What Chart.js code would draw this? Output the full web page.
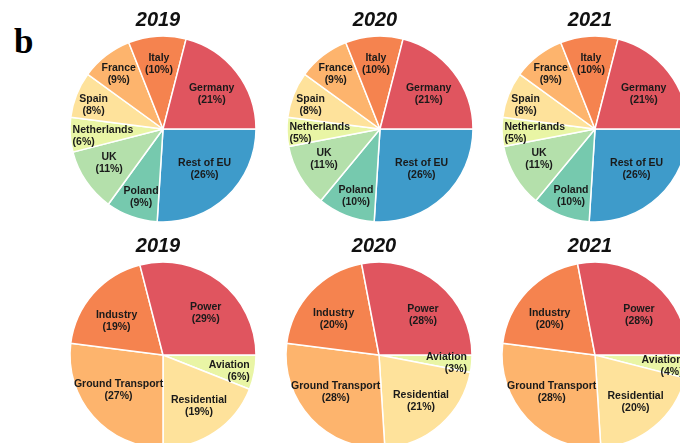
<!DOCTYPE html>
<html>
<head>
<meta charset="utf-8">
<script src="https://cdn.jsdelivr.net/npm/chart.js@4.4.1/dist/chart.umd.min.js"></script>
<style>
  html, body { margin: 0; padding: 0; background: #fff; }
  body { width: 680px; height: 443px; overflow: hidden; position: relative; }
  canvas { position: absolute; }
  #tag { position: absolute; left: 14px; top: 24px; font: bold 35px "Liberation Serif", serif; line-height: 35px; color: #000; }
</style>
</head>
<body>
<div id="tag">b</div>
<canvas id="c1" width="216" height="226" style="left:55px;top:0px"></canvas>
<canvas id="c2" width="216" height="226" style="left:272px;top:0px"></canvas>
<canvas id="c3" width="216" height="226" style="left:487px;top:0px"></canvas>
<canvas id="c4" width="216" height="226" style="left:55px;top:226px"></canvas>
<canvas id="c5" width="216" height="226" style="left:271px;top:226px"></canvas>
<canvas id="c6" width="216" height="226" style="left:487px;top:226px"></canvas>
<script>
// country shares (%), order as drawn counter-clockwise from 3 o'clock
var countries = ["Germany", "Italy", "France", "Spain", "Netherlands", "UK", "Poland", "Rest of EU"];
var countries2019 = [21, 10, 9, 8, 6, 11, 9, 26];
var countries2020 = [21, 10, 9, 8, 5, 11, 10, 26];
var countries2021 = [21, 10, 9, 8, 5, 11, 10, 26];
var countryColors = ["#e0555f", "#f5834f", "#fdb46d", "#fee29b", "#e9f5a5", "#b4e0ab", "#76c9ae", "#3e9bca"];

// sector shares (%)
var sectors = ["Power", "Industry", "Ground Transport", "Residential", "Aviation"];
var sectors2019 = [29, 19, 27, 19, 6];
var sectors2020 = [28, 20, 28, 21, 3];
var sectors2021 = [28, 20, 28, 20, 4];
var sectorColors = ["#e0555f", "#f5834f", "#fdb46d", "#fee29b", "#e9f5a5"];

var years = ["2019", "2020", "2021"];

// label placement tweaks: fraction of radius, angle shift (deg, counter-clockwise), text alignment
var labelStyle = {
  "Germany": { d: 0.645, a: -2, align: "center" },
  "Italy": { d: 0.70, a: 0, align: "center" },
  "France": { d: 0.76, a: 1, align: "center" },
  "Spain": { d: 0.79, a: 2.5, align: "center" },
  "Netherlands": { d: 0.975, a: 1, align: "left" },
  "UK": { d: 0.685, a: -2, align: "center" },
  "Poland": { d: 0.77, a: 2, align: "center" },
  "Rest of EU": { d: 0.62, a: 3, align: "center" },
  "Power": { d: 0.64, a: -8, align: "center" },
  "Industry": { d: 0.62, a: 5, align: "center" },
  "Ground Transport": { d: 0.61, a: -3, align: "center" },
  "Residential": { d: 0.67, a: 1, align: "center" },
  "Aviation": { d: 0.95, a: 0, align: "right" }
};

// draw the year above and "Name (xx%)" inside each slice
var sliceLabels = {
  id: "sliceLabels",
  afterDatasetsDraw: function (chart, args, opts) {
    var ctx = chart.ctx;
    var meta = chart.getDatasetMeta(0);
    var values = chart.data.datasets[0].data;
    var total = values.reduce(function (a, b) { return a + b; }, 0);
    var area = chart.chartArea;
    ctx.save();
    ctx.font = "italic bold 20px 'Liberation Sans', Arial, sans-serif";
    ctx.fillStyle = "#111";
    ctx.textAlign = "center";
    ctx.textBaseline = "middle";
    ctx.fillText(opts.year, (area.left + area.right) / 2 - 5, 20);

    ctx.font = "bold 10.5px 'Liberation Sans', Arial, sans-serif";
    ctx.fillStyle = "#1a1a1a";
    meta.data.forEach(function (arc, i) {
      var name = chart.data.labels[i];
      var st = labelStyle[name];
      var p = arc.getProps(["x", "y", "startAngle", "endAngle", "outerRadius"], true);
      // canvas angles run clockwise, so subtract the shift
      var ang = (p.startAngle + p.endAngle) / 2 - st.a * Math.PI / 180;
      var r = p.outerRadius * st.d;
      var x = p.x + Math.cos(ang) * r;
      var y = p.y + Math.sin(ang) * r;
      var pct = Math.round(values[i] / total * 100);
      ctx.textAlign = st.align;
      ctx.fillText(name, x, y - 6);
      ctx.fillText("(" + pct + "%)", x, y + 6);
    });
    ctx.restore();
  }
};

function makePie(id, year, labels, values, colors) {
  // Chart.js goes clockwise, so reverse to get the counter-clockwise order
  var ctx = document.getElementById(id).getContext("2d");
  return new Chart(ctx, {
    type: "pie",
    data: {
      labels: labels.slice().reverse(),
      datasets: [{
        data: values.slice().reverse(),
        backgroundColor: colors.slice().reverse(),
        borderColor: "#ffffff",
        borderWidth: 1.5
      }]
    },
    options: {
      responsive: false,
      animation: false,
      rotation: 90,
      radius: 93,
      layout: { padding: { top: 32 } },
      plugins: {
        legend: { display: false },
        tooltip: { enabled: false },
        title: { display: false },
        sliceLabels: { year: year }
      }
    },
    plugins: [sliceLabels]
  });
}

makePie("c1", years[0], countries, countries2019, countryColors);
makePie("c2", years[1], countries, countries2020, countryColors);
makePie("c3", years[2], countries, countries2021, countryColors);
makePie("c4", years[0], sectors, sectors2019, sectorColors);
makePie("c5", years[1], sectors, sectors2020, sectorColors);
makePie("c6", years[2], sectors, sectors2021, sectorColors);
</script>
</body>
</html>
